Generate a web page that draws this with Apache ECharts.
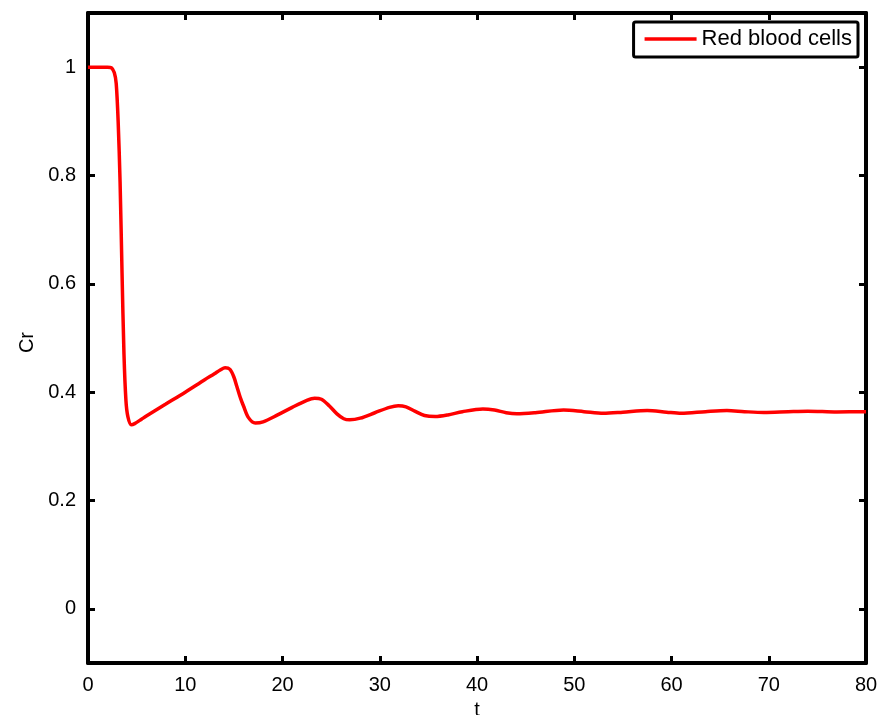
<!DOCTYPE html>
<html>
<head>
<meta charset="utf-8">
<script src="https://cdn.jsdelivr.net/npm/echarts@6/dist/echarts.min.js"></script>
<style>
html,body{margin:0;padding:0;background:#fff;}
#chart{width:880px;height:715px;}
</style>
</head>
<body>
<div id="chart"></div>
<script>
const seriesName = 'Red blood cells';
const tValues = [0, 1, 2, 2.4, 2.7, 2.9, 3.1, 3.3, 3.5, 3.7, 3.9, 4.1, 4.45, 4.8, 5.5, 6, 8, 10, 12, 13, 13.6, 14.1, 14.6, 15.0, 15.3, 15.7, 16.0, 16.5, 17.2, 18, 19.5, 21, 22.5, 23.3, 24, 24.8, 25.6, 26.3, 26.9, 28, 29.5, 31, 31.9, 32.7, 33.6, 34.6, 35.7, 37, 38.5, 40.6, 41.8, 43, 44.1, 46, 48.9, 51, 53, 55, 57.5, 59.5, 61, 63.5, 65.7, 67.5, 69.5, 72, 74, 77, 80];
const crValues = [1.0, 1.0, 1.0, 0.999, 0.99, 0.97, 0.9, 0.787, 0.62, 0.47, 0.385, 0.355, 0.34, 0.342, 0.35, 0.356, 0.378, 0.4, 0.423, 0.434, 0.441, 0.445, 0.442, 0.428, 0.411, 0.388, 0.374, 0.353, 0.343, 0.345, 0.358, 0.372, 0.385, 0.389, 0.387, 0.375, 0.36, 0.351, 0.349, 0.352, 0.362, 0.372, 0.375, 0.373, 0.365, 0.357, 0.355, 0.358, 0.364, 0.369, 0.367, 0.362, 0.36, 0.362, 0.367, 0.364, 0.361, 0.363, 0.366, 0.363, 0.361, 0.364, 0.366, 0.364, 0.3625, 0.364, 0.365, 0.3635, 0.364];
const xTicks = [0, 10, 20, 30, 40, 50, 60, 70, 80];
const yTicks = [0, 0.2, 0.4, 0.6, 0.8, 1];

const font = 'Liberation Sans, Arial, sans-serif';
const data = tValues.map((t, i) => [t, crValues[i]]);
const axisLine = { show: true, onZero: false, lineStyle: { color: '#000', width: 4 } };
const tick = { show: true, inside: true, length: 7, lineStyle: { color: '#000', width: 3 } };

const chart = echarts.init(document.getElementById('chart'));
chart.setOption({
  animation: false,
  backgroundColor: '#fff',
  grid: { left: 88, right: 14, top: 13, bottom: 52, containLabel: false, outerBoundsMode: 'none' },
  legend: {
    data: [{ name: seriesName, icon: 'rect' }],
    right: 22, top: 22,
    backgroundColor: '#fff',
    borderColor: '#000', borderWidth: 3, borderRadius: 2,
    padding: [6, 6, 7, 11],
    itemWidth: 52, itemHeight: 3.5,
    itemStyle: { color: '#ff0000' },
    textStyle: { fontFamily: font, fontSize: 22, color: '#000' }
  },
  graphic: [{
    type: 'text', left: 17, top: 332,
    style: { text: 'Cr', fontFamily: font, fontSize: 20, fill: '#000' },
    rotation: Math.PI / 2, originX: 0, originY: 0
  }],
  xAxis: [{
    type: 'value', min: 0, max: 80, interval: 10, position: 'bottom',
    name: 't', nameLocation: 'middle', nameGap: 37,
    nameTextStyle: { fontFamily: font, fontSize: 20, color: '#000' },
    axisLine: axisLine, axisTick: tick,
    axisLabel: { show: true, margin: 12, fontFamily: font, fontSize: 20, color: '#000',
      customValues: xTicks },
    splitLine: { show: false }
  }, {
    type: 'value', min: 0, max: 80, interval: 10, position: 'top',
    axisLine: axisLine, axisTick: tick, axisLabel: { show: false }, splitLine: { show: false }
  }],
  yAxis: [{
    type: 'value', min: -0.1, max: 1.1, position: 'left',
    axisLine: axisLine,
    axisTick: Object.assign({}, tick, { customValues: yTicks }),
    axisLabel: { show: true, margin: 12, fontFamily: font, fontSize: 20, color: '#000',
      customValues: yTicks, formatter: v => String(v) },
    splitLine: { show: false }
  }, {
    type: 'value', min: -0.1, max: 1.1, position: 'right',
    axisLine: axisLine,
    axisTick: Object.assign({}, tick, { customValues: yTicks }),
    axisLabel: { show: false }, splitLine: { show: false }
  }],
  series: [{
    name: seriesName, type: 'line', xAxisIndex: 0, yAxisIndex: 0,
    data: data, showSymbol: false, symbol: 'none',
    smooth: 0.3,
    lineStyle: { color: '#ff0000', width: 3.5 },
    itemStyle: { color: '#ff0000' }
  }]
});
</script>
</body>
</html>
